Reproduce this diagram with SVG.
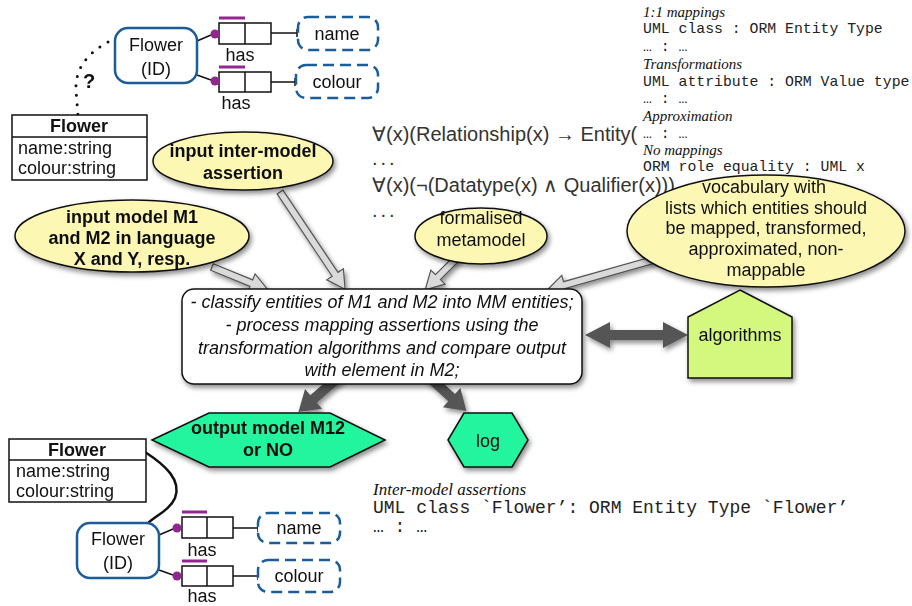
<svg xmlns="http://www.w3.org/2000/svg" width="912" height="606" viewBox="0 0 912 606">
<defs>
<style>
text{font-family:"Liberation Sans",Arial,sans-serif;fill:#111}
.lbl{font-size:18px}
.b{font-weight:bold}
.c{text-anchor:middle}
.it{font-style:italic}
.mono{font-family:"Liberation Mono","Courier New",monospace;fill:#222}
.ser{font-family:"Liberation Serif","Times New Roman",serif;font-style:italic;fill:#111}
.fml{font-size:20px;fill:#333}
.ell{fill:#fcf7b2;stroke:#111;stroke-width:1.5}
.hex{fill:#22f59d;stroke:#111;stroke-width:1.5}
.orm{fill:#fff;stroke:#1b5c99;stroke-width:2.5}
.val{fill:#fff;stroke:#1b5c99;stroke-width:2.5;stroke-dasharray:11 6}
.role{fill:#fff;stroke:#111;stroke-width:1.5}
.ln{stroke:#111;stroke-width:1.5;fill:none}
.bar{stroke:#92278f;stroke-width:3}
.dot{fill:#92278f}
.hol{fill:#dadada;stroke:#555;stroke-width:1.2}
.dark{fill:#555;stroke:none}
.uml{fill:#fff;stroke:#111;stroke-width:1.5}
</style>
<filter id="sh" x="-20%" y="-20%" width="140%" height="150%">
<feDropShadow dx="2" dy="3" stdDeviation="2.5" flood-color="#000" flood-opacity="0.45"/>
</filter>
</defs>
<rect width="912" height="606" fill="#fff"/>

<!-- formulas -->
<g id="formulas">
<text class="fml" x="372" y="141">∀(x)(Relationship(x) → Entity(</text>
<text class="fml" x="372" y="165" letter-spacing="3">...</text>
<text class="fml" x="372" y="192">∀(x)(¬(Datatype(x) ∧ Qualifier(x)))</text>
<text class="fml" x="372" y="217" letter-spacing="3">...</text>
</g>

<!-- vocabulary text listing -->
<g id="vocab-list">
<text class="ser" x="643" y="17" font-size="15">1:1 mappings</text>
<text class="mono" x="643" y="33" font-size="14.8">UML class : ORM Entity Type</text>
<text class="mono" x="643" y="51" font-size="14.8">… : …</text>
<text class="ser" x="643" y="69" font-size="15">Transformations</text>
<text class="mono" x="643" y="86" font-size="14.8">UML attribute : ORM Value type</text>
<text class="mono" x="643" y="103" font-size="14.8">… : …</text>
<text class="ser" x="643" y="121" font-size="15">Approximation</text>
<text class="mono" x="643" y="138" font-size="14.8">… : …</text>
<text class="ser" x="643" y="155" font-size="15">No mappings</text>
<text class="mono" x="643" y="171" font-size="14.8">ORM role equality : UML x</text>
</g>

<g id="assertion-list">
<text class="ser" x="373" y="495" font-size="17">Inter-model assertions</text>
<text class="mono" x="373" y="513" font-size="18">UML class `Flower’: ORM Entity Type `Flower’</text>
<text class="mono" x="373" y="532" font-size="18">… : …</text>
</g>

<!-- connectors -->
<g id="connectors">
<g filter="url(#sh)">
<path class="hol" transform="translate(280,192) rotate(56.2)" d="M0,-3.5 H99 V-10 L117,0 L99,10 V3.5 H0 Z"/>
<path class="hol" transform="translate(212,267) rotate(22.3)" d="M0,-3.5 H42.5 V-10 L60.5,0 L42.5,10 V3.5 H0 Z"/>
<path class="hol" transform="translate(457,258) rotate(135)" d="M0,-3.5 H27 V-10 L45,0 L27,10 V3.5 H0 Z"/>
<path class="hol" transform="translate(653,260) rotate(164.2)" d="M0,-3.5 H92 V-10 L110,0 L92,10 V3.5 H0 Z"/>
<path class="dark" transform="translate(340,376) rotate(139.1)" d="M0,-5 H35 V-13 L55,0 L35,13 V5 H0 Z"/>
<path class="dark" transform="translate(428,376) rotate(42.4)" d="M0,-5 H32 V-13 L52,0 L32,13 V5 H0 Z"/>
<path class="dark" d="M585,335 L610,322 V330 H663 V322 L688,335 L663,348 V340 H610 V348 Z"/>
</g>
<!-- ORM top -->
<line class="ln" x1="197" y1="41" x2="211" y2="35"/>
<line class="ln" x1="197" y1="75" x2="211" y2="80"/>
<line class="ln" x1="271" y1="33" x2="297" y2="33"/>
<line class="ln" x1="297" y1="29" x2="297" y2="37"/>
<line class="ln" x1="271" y1="82" x2="295" y2="82"/>
<line class="ln" x1="295" y1="78" x2="295" y2="86"/>
<path d="M108,42 C86,54 75,70 76,90 L78,116" fill="none" stroke="#111" stroke-width="3" stroke-linecap="round" stroke-dasharray="0 9.5"/>
<!-- ORM bottom -->
<line class="ln" x1="159" y1="535" x2="173" y2="529"/>
<line class="ln" x1="159" y1="570" x2="173" y2="575"/>
<line class="ln" x1="233" y1="528" x2="258" y2="528"/>
<line class="ln" x1="258" y1="524" x2="258" y2="532"/>
<line class="ln" x1="233" y1="576" x2="258" y2="576"/>
<line class="ln" x1="258" y1="572" x2="258" y2="580"/>
<path d="M145,452 C165,465 182,480 175,498 C170,510 155,516 147,524" fill="none" stroke="#111" stroke-width="2.5"/>
</g>

<!-- top ORM model -->
<g id="orm-flower-top">
<rect class="orm" x="115" y="28" width="82" height="55" rx="13"/>
<text class="lbl c" x="156" y="51">Flower</text>
<text class="lbl c" x="156" y="75">(ID)</text>
</g>
<g id="orm-role-name-top">
<line class="bar" x1="219" y1="18" x2="245" y2="18"/>
<rect class="role" x="219" y="23" width="52" height="21"/>
<line class="ln" x1="245" y1="23" x2="245" y2="44"/>
<circle class="dot" cx="215" cy="34" r="4.5"/>
<text class="lbl c" x="240" y="61">has</text>
</g>
<g id="orm-role-colour-top">
<line class="bar" x1="219" y1="67" x2="245" y2="67"/>
<rect class="role" x="219" y="72" width="52" height="20"/>
<line class="ln" x1="245" y1="72" x2="245" y2="92"/>
<circle class="dot" cx="215" cy="81" r="4.5"/>
<text class="lbl c" x="236" y="109">has</text>
</g>
<g id="orm-name-top">
<rect class="val" x="298" y="17" width="80" height="33" rx="10"/>
<text class="lbl c" x="337" y="40">name</text>
</g>
<g id="orm-colour-top">
<rect class="val" x="296" y="65" width="82" height="33" rx="10"/>
<text class="lbl c" x="337" y="88">colour</text>
</g>
<g id="question">
<text class="b" x="89" y="88" font-size="20" text-anchor="middle">?</text>
</g>

<!-- top UML class -->
<g id="uml-flower-top">
<rect class="uml" x="12" y="115" width="135" height="65"/>
<line class="ln" x1="12" y1="137" x2="147" y2="137"/>
<text class="lbl b c" x="79" y="132">Flower</text>
<text class="lbl" x="18" y="154">name:string</text>
<text class="lbl" x="18" y="174">colour:string</text>
</g>

<!-- input ellipses -->
<g id="input-assertion" filter="url(#sh)">
<ellipse class="ell" cx="243" cy="161" rx="90" ry="29"/>
<text class="lbl b c" x="243" y="157">input inter-model</text>
<text class="lbl b c" x="243" y="179">assertion</text>
</g>
<g id="input-models" filter="url(#sh)">
<ellipse class="ell" cx="132" cy="236" rx="117" ry="36"/>
<text class="lbl b c" x="132" y="223">input model M1</text>
<text class="lbl b c" x="132" y="244">and M2 in language</text>
<text class="lbl b c" x="132" y="265">X and Y, resp.</text>
</g>
<g id="formalised-metamodel" filter="url(#sh)">
<ellipse class="ell" cx="481" cy="236" rx="66" ry="28"/>
<text class="lbl c" x="481" y="224">formalised</text>
<text class="lbl c" x="481" y="246">metamodel</text>
</g>
<g id="vocabulary" filter="url(#sh)">
<ellipse class="ell" cx="766" cy="231" rx="139" ry="56"/>
<text class="lbl c" x="764" y="193">vocabulary with</text>
<text class="lbl c" x="766" y="214">lists which entities should</text>
<text class="lbl c" x="766" y="234">be mapped, transformed,</text>
<text class="lbl c" x="766" y="255">approximated, non-</text>
<text class="lbl c" x="766" y="276">mappable</text>
</g>

<!-- process box -->
<g id="process" filter="url(#sh)">
<rect x="182" y="289" width="400" height="95" rx="12" fill="#fff" stroke="#111" stroke-width="1.5"/>
<text class="lbl it c" x="382" y="308">- classify entities of M1 and M2 into MM entities;</text>
<text class="lbl it c" x="382" y="331">- process mapping assertions using the</text>
<text class="lbl it c" x="382" y="354">transformation algorithms and compare output</text>
<text class="lbl it c" x="382" y="376">with element in M2;</text>
</g>

<g id="algorithms" filter="url(#sh)">
<path d="M740,290 L792,317 V378 H688 V317 Z" fill="#d4f87e" stroke="#111" stroke-width="1.5"/>
<text class="lbl c" x="740" y="341">algorithms</text>
</g>

<g id="output" filter="url(#sh)">
<path class="hex" d="M152,440 L209,413 H330 L385,440 L330,467 H209 Z"/>
<text class="lbl b c" x="268" y="434">output model M12</text>
<text class="lbl b c" x="268" y="456">or NO</text>
</g>

<g id="log" filter="url(#sh)">
<path class="hex" d="M448,440 L464,413 H512 L528,440 L512,467 H464 Z"/>
<text class="lbl c" x="488" y="447">log</text>
</g>

<!-- bottom UML class -->
<g id="uml-flower-bottom">
<rect class="uml" x="9" y="439" width="137" height="63"/>
<line class="ln" x1="9" y1="460" x2="146" y2="460"/>
<text class="lbl b c" x="77" y="456">Flower</text>
<text class="lbl" x="16" y="477">name:string</text>
<text class="lbl" x="16" y="497">colour:string</text>
</g>

<!-- bottom ORM model -->
<g id="orm-flower-bottom">
<rect class="orm" x="77" y="523" width="82" height="55" rx="13"/>
<text class="lbl c" x="118" y="545">Flower</text>
<text class="lbl c" x="118" y="569">(ID)</text>
</g>
<g id="orm-role-name-bottom">
<line class="bar" x1="182" y1="512" x2="207" y2="512"/>
<rect class="role" x="182" y="517" width="51" height="21"/>
<line class="ln" x1="207" y1="517" x2="207" y2="538"/>
<circle class="dot" cx="177" cy="528" r="4.5"/>
<text class="lbl c" x="202" y="556">has</text>
</g>
<g id="orm-role-colour-bottom">
<line class="bar" x1="182" y1="561" x2="207" y2="561"/>
<rect class="role" x="182" y="566" width="51" height="20"/>
<line class="ln" x1="207" y1="566" x2="207" y2="586"/>
<circle class="dot" cx="177" cy="576" r="4.5"/>
<text class="lbl c" x="202" y="602">has</text>
</g>
<g id="orm-name-bottom">
<rect class="val" x="258" y="513" width="82" height="30" rx="10"/>
<text class="lbl c" x="299" y="534">name</text>
</g>
<g id="orm-colour-bottom">
<rect class="val" x="258" y="560" width="82" height="32" rx="10"/>
<text class="lbl c" x="299" y="582">colour</text>
</g>
</svg>
